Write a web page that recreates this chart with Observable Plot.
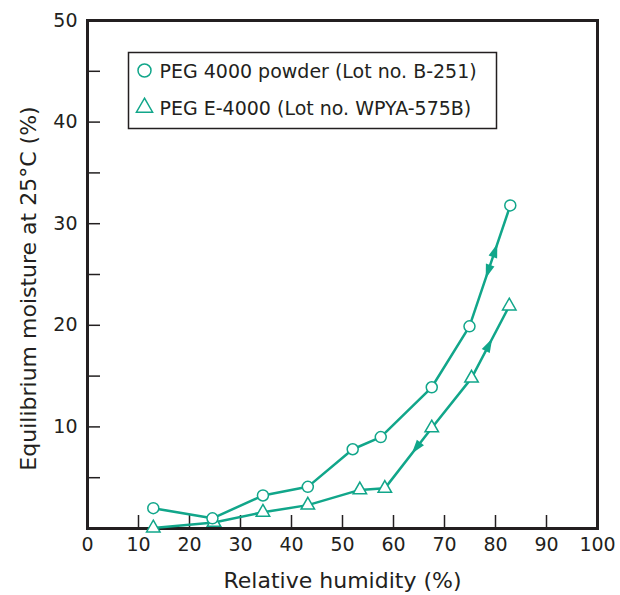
<!DOCTYPE html>
<html>
<head>
<meta charset="utf-8">
<script src="https://cdn.jsdelivr.net/npm/d3@7"></script>
<script src="https://cdn.jsdelivr.net/npm/@observablehq/plot@0.6"></script>
<style>
  html, body { margin: 0; padding: 0; background: #fff; }
</style>
</head>
<body>
<div id="chart"></div>
<script>
// ---- data ----
const humidityA = [12.9, 24.5, 34.4, 43.2, 52.0, 57.5, 67.5, 74.9, 82.9];
const moistureA = [2.0, 1.0, 3.25, 4.1, 7.8, 9.0, 13.9, 19.9, 31.8];
const humidityB = [12.9, 24.8, 34.4, 43.2, 53.4, 58.3, 67.5, 75.3, 82.7];
const moistureB = [0.05, 0.6, 1.6, 2.3, 3.8, 3.95, 9.9, 14.8, 21.9];
const seriesNames = ["PEG 4000 powder (Lot no. B-251)", "PEG E-4000 (Lot no. WPYA-575B)"];
const xTickLabels = [0, 10, 20, 30, 40, 50, 60, 70, 80, 90, 100];
const xTickMarks = [10, 20, 30, 40, 50, 60, 70, 80, 90];
const yTickLabels = [10, 20, 30, 40, 50];
const yTickMarks = [5, 10, 15, 20, 25, 30, 35, 40, 45];
const xLabel = "Relative humidity (%)";
const yLabel = "Equilibrium moisture at 25°C (%)";
// direction arrows: series index, segment index, fraction along segment, direction
const arrowSeries = [0, 0, 1, 1];
const arrowSegment = [7, 7, 7, 5];
const arrowFraction = [0.62, 0.46, 0.45, 0.68];
const arrowDirection = ["up", "down", "up", "down"];

// ---- layout ----
const W = 620, H = 595;
const mL = 87, mR = 23, mT = 20, mB = 67;
const innerW = W - mL - mR, innerH = H - mT - mB;
const xDomain = [0, 100], yDomain = [0, 50];
const kx = innerW / (xDomain[1] - xDomain[0]);
const ky = innerH / (yDomain[1] - yDomain[0]);

const teal = "#11a68a";
const ink = "#231f20";

const seriesA = humidityA.map((x, i) => ({x, y: moistureA[i]}));
const seriesB = humidityB.map((x, i) => ({x, y: moistureB[i]}));
const allSeries = [seriesA, seriesB];

const arrows = arrowSeries.map((s, i) => {
  const pts = allSeries[s];
  const p0 = pts[arrowSegment[i]], p1 = pts[arrowSegment[i] + 1];
  const t = arrowFraction[i];
  const ang = Math.atan2((p1.x - p0.x) * kx, (p1.y - p0.y) * ky) * 180 / Math.PI;
  return {
    x: p0.x + (p1.x - p0.x) * t,
    y: p0.y + (p1.y - p0.y) * t,
    rotate: arrowDirection[i] === "up" ? ang : ang + 180
  };
});

const arrowHead = {
  draw(ctx) {
    ctx.moveTo(0, -8);
    ctx.lineTo(4.5, 6);
    ctx.lineTo(-4.5, 6);
    ctx.closePath();
  }
};

const fontFamily = "'DejaVu Sans', sans-serif";

const legendMarks = seriesNames.flatMap((name, i) => [
  Plot.dot([name], {
    frameAnchor: "top-left", dx: 57, dy: 50 + i * 37,
    symbol: i === 0 ? "circle" : "triangle", r: i === 0 ? 6.5 : 6,
    stroke: teal, strokeWidth: 1.5, fill: "white"
  }),
  Plot.text([name], {
    frameAnchor: "top-left", dx: 72, dy: 51 + i * 37,
    text: d => d, textAnchor: "start", lineAnchor: "middle",
    fontSize: 19, fill: ink
  })
]);

const chart = Plot.plot({
  width: W, height: H,
  marginLeft: mL, marginRight: mR, marginTop: mT, marginBottom: mB,
  style: {fontFamily, color: ink, background: "white", overflow: "visible"},
  x: {domain: xDomain},
  y: {domain: yDomain},
  marks: [
    Plot.tickX(xTickMarks, {x: d => d, insetTop: innerH - 13, stroke: ink, strokeWidth: 1.5}),
    Plot.tickY(yTickMarks, {y: d => d, insetRight: innerW - 13, stroke: ink, strokeWidth: 1.5}),
    Plot.axisX(xTickLabels, {tickSize: 0, tickPadding: 9, fontSize: 19, fill: ink, label: null}),
    Plot.axisY(yTickLabels, {tickSize: 0, tickPadding: 10, fontSize: 19, fill: ink, label: null}),
    Plot.frame({stroke: ink, strokeWidth: 3}),
    Plot.frame({stroke: ink, strokeWidth: 1.5, insetLeft: 41, insetRight: 101, insetTop: 32, insetBottom: 400}),
    ...legendMarks,
    Plot.line(seriesA, {x: "x", y: "y", stroke: teal, strokeWidth: 2.5}),
    Plot.line(seriesB, {x: "x", y: "y", stroke: teal, strokeWidth: 2.5}),
    Plot.dot(arrows, {x: "x", y: "y", rotate: "rotate", symbol: arrowHead, fill: teal, stroke: "none"}),
    Plot.dot(seriesB, {x: "x", y: "y", symbol: "triangle", r: 5, stroke: teal, strokeWidth: 1.5, fill: "white"}),
    Plot.dot(seriesA, {x: "x", y: "y", symbol: "circle", r: 5.5, stroke: teal, strokeWidth: 1.5, fill: "white"}),
    Plot.text([xLabel], {frameAnchor: "bottom", dy: 52, text: d => d, textAnchor: "middle", lineAnchor: "middle", fontSize: 22, fill: ink}),
    Plot.text([yLabel], {frameAnchor: "left", dx: -59, dy: 14, rotate: -90, text: d => d, textAnchor: "middle", lineAnchor: "middle", fontSize: 22, fill: ink})
  ]
});
document.getElementById("chart").appendChild(chart);
</script>
</body>
</html>
